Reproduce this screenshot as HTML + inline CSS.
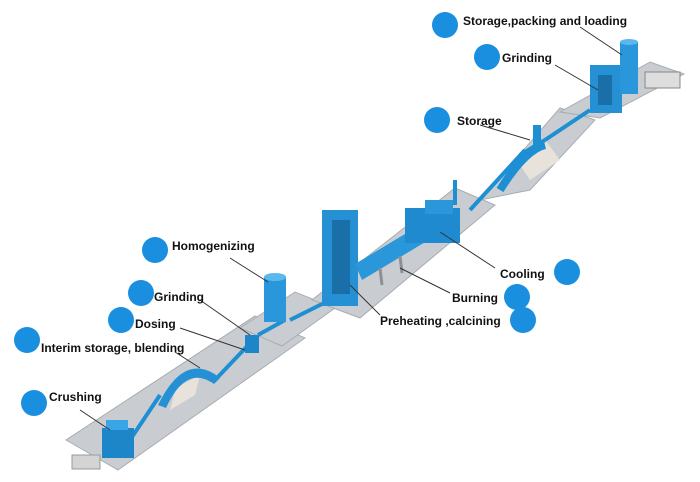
<!DOCTYPE html>
<html><head><meta charset="utf-8"><style>
html,body{margin:0;padding:0;background:#fff}
svg{display:block}
text{font-family:"Liberation Sans",sans-serif;font-size:12px;font-weight:bold;fill:#111}
</style></head><body>
<svg width="700" height="482" viewBox="0 0 700 482">
<!-- ground slabs -->
<g fill="#c9cdd1" stroke="#a8adb2" stroke-width="1">
<polygon points="66,440 118,470 305,338 255,316"/>
<polygon points="240,328 282,346 335,308 295,292"/>
<polygon points="312,300 360,318 495,205 455,188"/>
<polygon points="480,200 530,190 595,120 560,108"/>
<polygon points="560,112 600,118 684,74 650,62"/>
</g>
<g fill="#e8e3da"><polygon points="170,410 195,395 200,375 176,388"/><polygon points="530,180 560,160 545,140 520,165"/></g>
<!-- conveyors -->
<g stroke="#1f8fd4" stroke-width="4" fill="none">
<line x1="130" y1="440" x2="160" y2="395"/>
<line x1="215" y1="380" x2="255" y2="338"/>
<line x1="258" y1="335" x2="285" y2="320"/>
<line x1="290" y1="320" x2="330" y2="300"/>
<line x1="470" y1="210" x2="525" y2="150"/>
<line x1="520" y1="155" x2="545" y2="140"/>
<line x1="545" y1="140" x2="590" y2="110"/>
<line x1="455" y1="205" x2="455" y2="180"/>
</g>
<!-- blending dome -->
<path d="M158,405 Q185,350 220,378 L214,384 Q186,364 166,408 Z" fill="#2590d4"/>
<path d="M500,190 Q525,150 545,145" stroke="#1f8fd4" stroke-width="8" fill="none"/>
<!-- crusher -->
<rect x="102" y="428" width="32" height="30" fill="#1c86c8"/>
<rect x="106" y="420" width="22" height="10" fill="#3aa5e6"/>
<rect x="72" y="455" width="28" height="14" fill="#d4d4d4" stroke="#999"/>
<!-- grinding/dosing -->
<rect x="245" y="335" width="14" height="18" fill="#1c86c8"/>
<!-- homogenizing silo -->
<rect x="264" y="277" width="22" height="45" fill="#2a97da"/>
<ellipse cx="275" cy="277" rx="11" ry="4" fill="#5ab8ee"/>
<!-- preheater tower -->
<rect x="322" y="210" width="36" height="96" fill="#2590d4"/>
<rect x="332" y="220" width="18" height="74" fill="#1a6fa8"/>
<!-- kiln -->
<polygon points="362,280 355,264 425,222 432,238" fill="#2a97da"/>
<g stroke="#8a9096" stroke-width="3"><line x1="380" y1="268" x2="382" y2="285"/><line x1="400" y1="256" x2="402" y2="273"/></g>
<!-- cooler -->
<rect x="405" y="208" width="55" height="35" fill="#1f8ad0"/>
<rect x="425" y="200" width="28" height="14" fill="#2a97da"/>
<rect x="453" y="182" width="3" height="22" fill="#1f8fd4"/>
<!-- storage -->
<rect x="533" y="125" width="8" height="20" fill="#1f8fd4"/>
<!-- grinding building + silo -->
<rect x="590" y="65" width="32" height="48" fill="#2590d4"/>
<rect x="598" y="75" width="14" height="30" fill="#1a6fa8"/>
<rect x="620" y="42" width="18" height="52" fill="#2a97da"/>
<ellipse cx="629" cy="42" rx="9" ry="3" fill="#5ab8ee"/>
<rect x="645" y="72" width="35" height="16" fill="#ddd" stroke="#888"/>
<!-- leader lines -->
<g stroke="#333" stroke-width="1">
<line x1="580" y1="27" x2="622" y2="55"/>
<line x1="555" y1="65" x2="598" y2="90"/>
<line x1="480" y1="125" x2="530" y2="140"/>
<line x1="230" y1="258" x2="268" y2="282"/>
<line x1="200" y1="300" x2="250" y2="335"/>
<line x1="180" y1="328" x2="245" y2="350"/>
<line x1="175" y1="352" x2="200" y2="368"/>
<line x1="80" y1="410" x2="110" y2="430"/>
<line x1="495" y1="268" x2="440" y2="232"/>
<line x1="450" y1="293" x2="400" y2="268"/>
<line x1="380" y1="315" x2="350" y2="285"/>
</g>
<!-- circles -->
<g fill="#1a8fe0">
<circle cx="445" cy="25" r="13"/><circle cx="487" cy="57" r="13"/><circle cx="437" cy="120" r="13"/>
<circle cx="155" cy="250" r="13"/><circle cx="141" cy="293" r="13"/><circle cx="121" cy="320" r="13"/>
<circle cx="27" cy="340" r="13"/><circle cx="34" cy="403" r="13"/><circle cx="567" cy="272" r="13"/>
<circle cx="517" cy="297" r="13"/><circle cx="523" cy="320" r="13"/>
</g>
<text x="463" y="25">Storage,packing and loading</text>
<text x="502" y="62">Grinding</text>
<text x="457" y="125">Storage</text>
<text x="172" y="250">Homogenizing</text>
<text x="154" y="301">Grinding</text>
<text x="135" y="328">Dosing</text>
<text x="41" y="352">Interim storage, blending</text>
<text x="49" y="401">Crushing</text>
<text x="500" y="278">Cooling</text>
<text x="452" y="302">Burning</text>
<text x="380" y="325">Preheating ,calcining</text>
</svg>
</body></html>
